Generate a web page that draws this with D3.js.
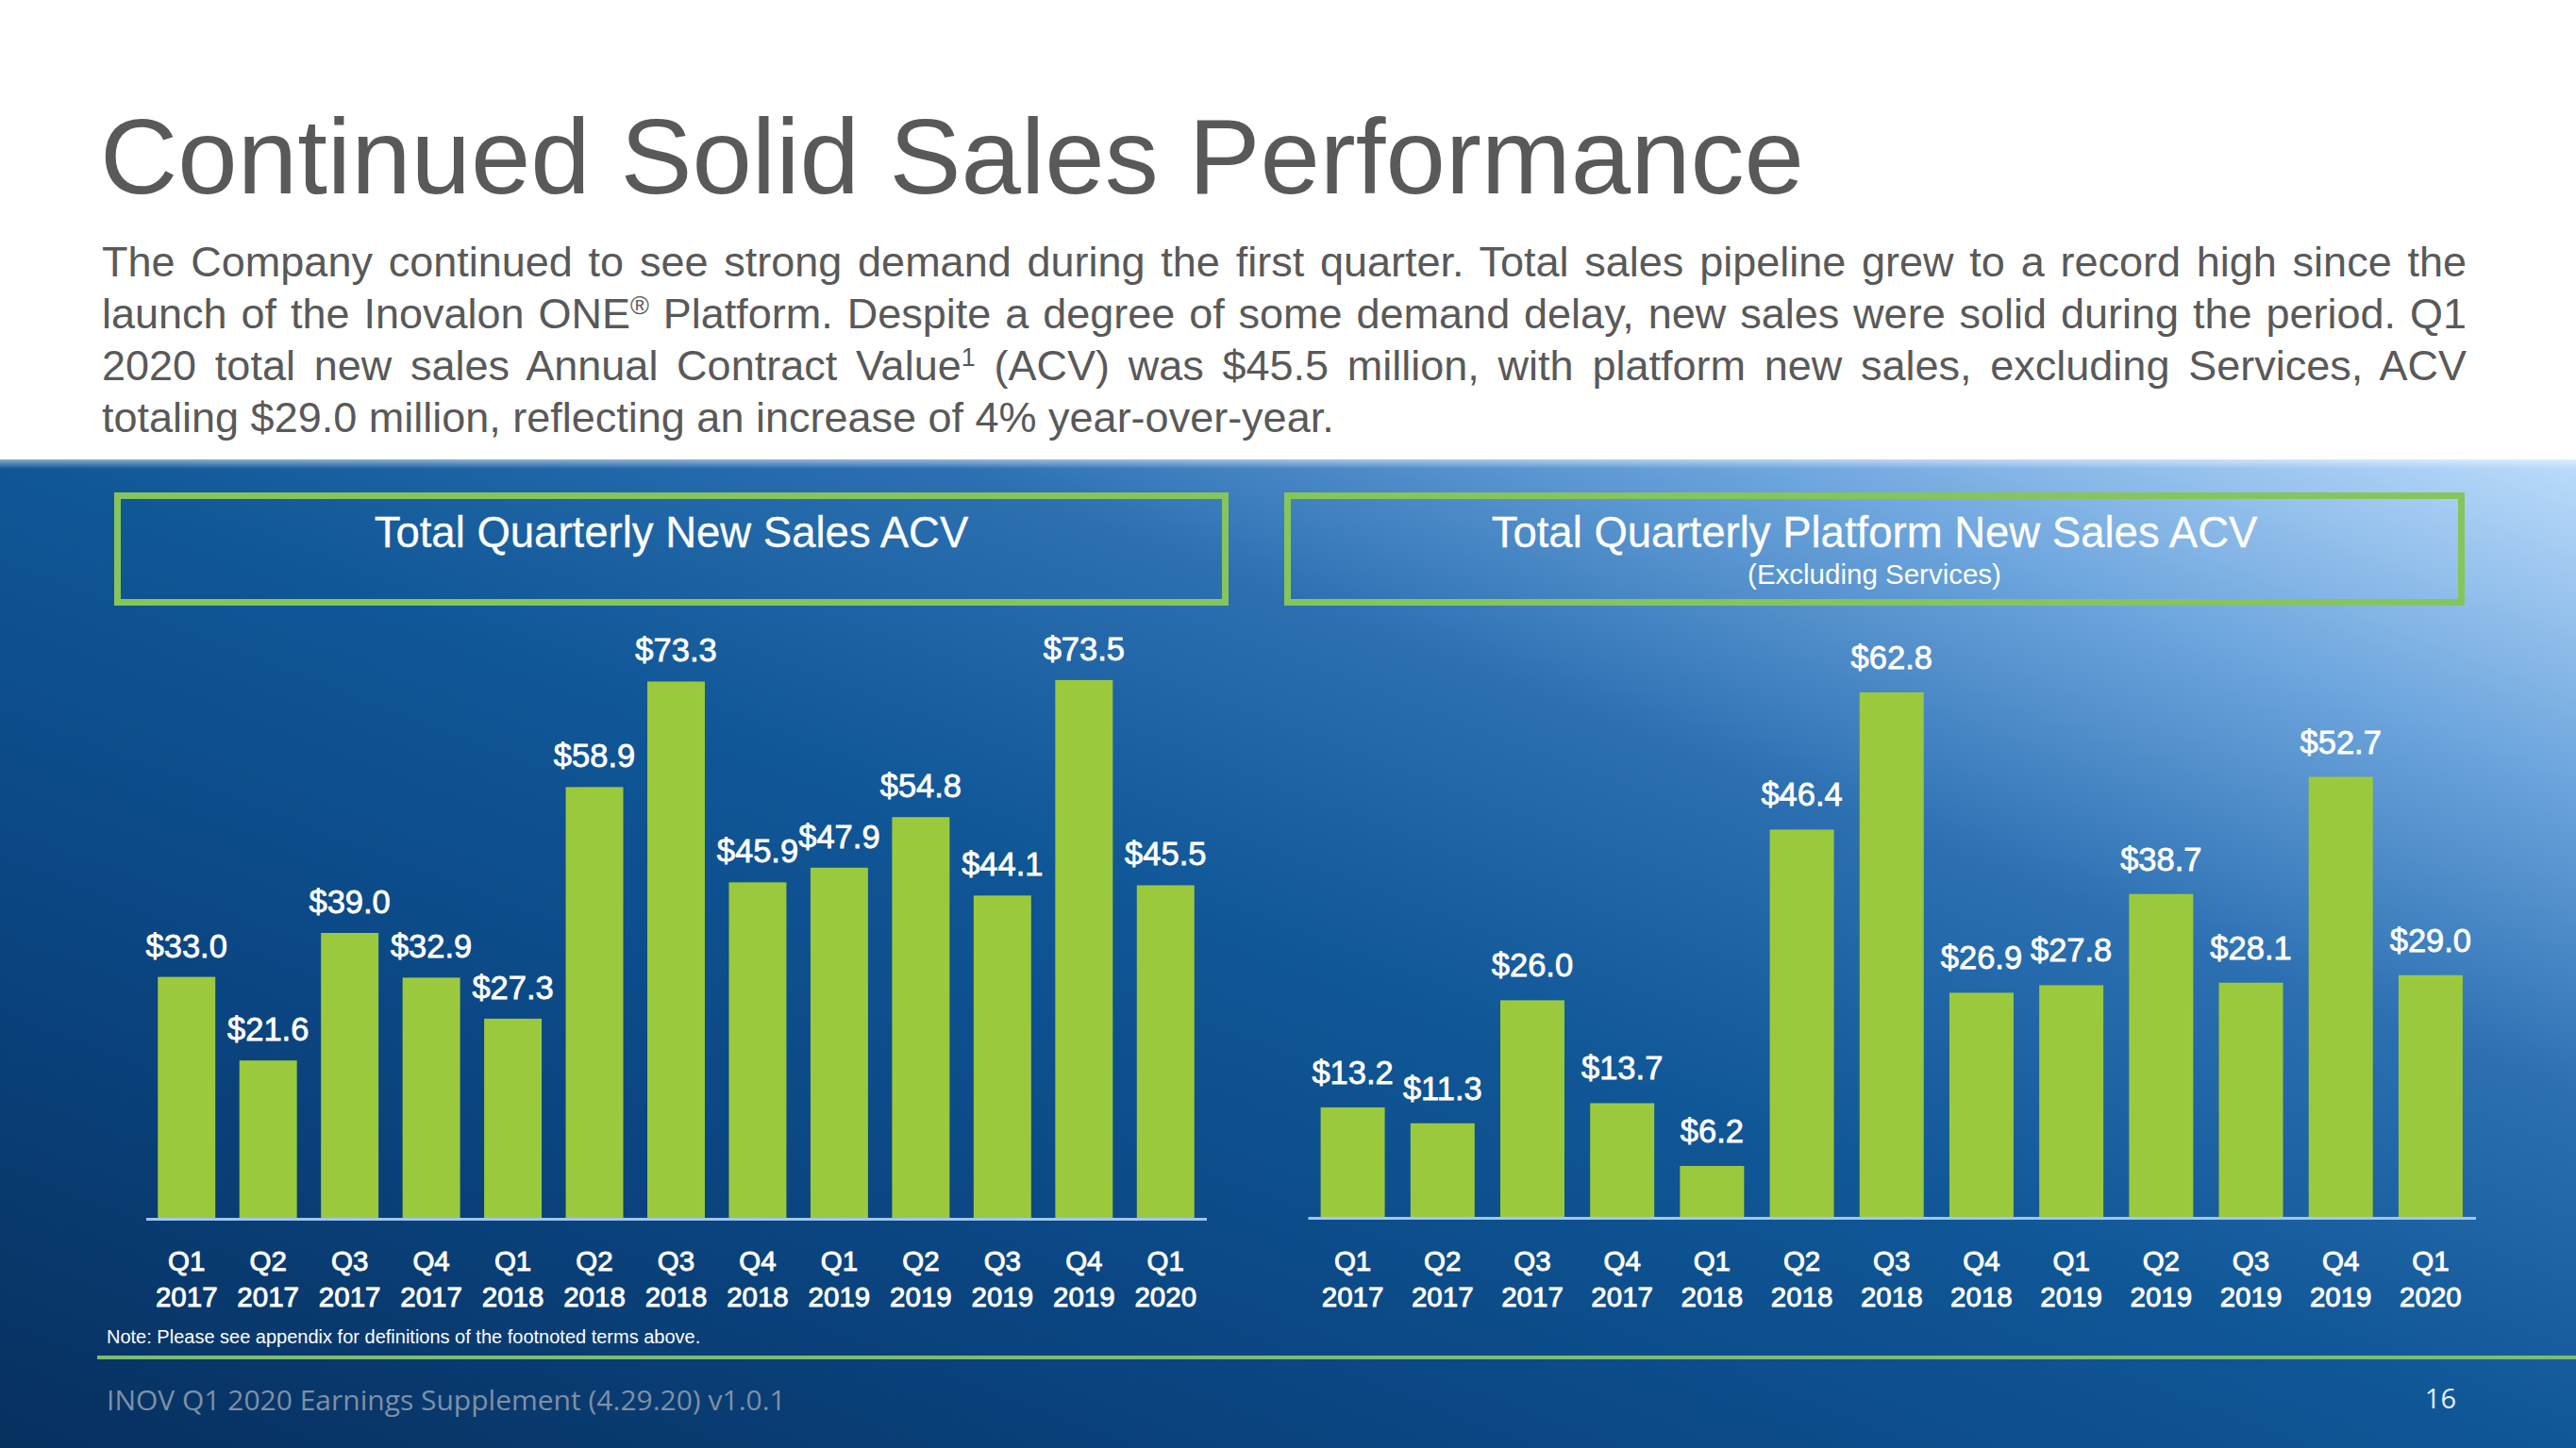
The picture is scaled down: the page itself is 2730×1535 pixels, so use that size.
<!DOCTYPE html>
<html>
<head>
<meta charset="utf-8">
<script src="https://cdn.jsdelivr.net/npm/d3@7/dist/d3.min.js"></script>
<style>
  html, body { margin: 0; padding: 0; background: #ffffff; }
  svg { display: block; }
</style>
</head>
<body>
<svg id="chart" width="2730" height="1535"></svg>
<script>
// ---------------- DATA ----------------
const quarters = ["Q1","Q2","Q3","Q4","Q1","Q2","Q3","Q4","Q1","Q2","Q3","Q4","Q1"];
const years = ["2017","2017","2017","2017","2018","2018","2018","2018","2019","2019","2019","2019","2020"];
const totalACV = [33.0, 21.6, 39.0, 32.9, 27.3, 58.9, 73.3, 45.9, 47.9, 54.8, 44.1, 73.5, 45.5];
const platformACV = [13.2, 11.3, 26.0, 13.7, 6.2, 46.4, 62.8, 26.9, 27.8, 38.7, 28.1, 52.7, 29.0];

const slideTitle = "Continued Solid Sales Performance";
const paragraphLines = [
  [{t:"The Company continued to see strong demand during the first quarter. Total sales pipeline grew to a record high since the"}],
  [{t:"launch of the Inovalon ONE"},{t:"®", sup:true},{t:" Platform. Despite a degree of some demand delay, new sales were solid during the period. Q1"}],
  [{t:"2020 total new sales Annual Contract Value"},{t:"1", sup:true},{t:" (ACV) was $45.5 million, with platform new sales, excluding Services, ACV"}],
  [{t:"totaling $29.0 million, reflecting an increase of 4% year-over-year."}]
];
const chart1Title = "Total Quarterly New Sales ACV";
const chart2Title = "Total Quarterly Platform New Sales ACV";
const chart2Sub = "(Excluding Services)";
const noteText = "Note: Please see appendix for definitions of the footnoted terms above.";
const footerText = "INOV Q1 2020 Earnings Supplement (4.29.20) v1.0.1";
const pageNum = "16";

// ---------------- SETUP ----------------
const svg = d3.select("#chart");
const FONT = "'Liberation Sans', Arial, Helvetica, sans-serif";
const defs = svg.append("defs");

const grad = defs.append("linearGradient").attr("id","bg")
  .attr("x1",0).attr("y1",1).attr("x2",1).attr("y2",0);
[[0,"#07305f"],[0.30,"#0b4784"],[0.5,"#105797"],[0.68,"#2c70b2"],[0.84,"#6ea6de"],[1,"#bcdcfb"]]
  .forEach(([o,c]) => grad.append("stop").attr("offset",o).attr("stop-color",c));

const topGlow = defs.append("linearGradient").attr("id","topglow")
  .attr("x1",0).attr("y1",0).attr("x2",0).attr("y2",1);
topGlow.append("stop").attr("offset",0).attr("stop-color","#ffffff").attr("stop-opacity",0.5);
topGlow.append("stop").attr("offset",1).attr("stop-color","#ffffff").attr("stop-opacity",0);

// white background
svg.append("rect").attr("x",0).attr("y",0).attr("width",2730).attr("height",1535).attr("fill","#ffffff");
// blue panel
svg.append("rect").attr("x",0).attr("y",487).attr("width",2730).attr("height",1048).attr("fill","url(#bg)");
svg.append("rect").attr("x",0).attr("y",487).attr("width",2730).attr("height",10).attr("fill","url(#topglow)");

// ---------------- TITLE & PARAGRAPH ----------------
svg.append("text").attr("x",106).attr("y",205)
  .attr("font-family",FONT).attr("font-size",114).attr("fill","#595959")
  .text(slideTitle);

const paraX = 108, paraRight = 2614, paraY0 = 293, paraDY = 55;
paragraphLines.forEach((parts, i) => {
  const t = svg.append("text").attr("x",paraX).attr("y",paraY0 + i*paraDY)
    .attr("font-family",FONT).attr("font-size",45).attr("fill","#595959")
    .attr("xml:space","preserve");
  parts.forEach(p => {
    const ts = t.append("tspan").text(p.t);
    if (p.sup) ts.attr("font-size",27).attr("baseline-shift","super");
  });
  if (i < paragraphLines.length - 1) {
    const natural = t.node().getComputedTextLength();
    const full = parts.map(p=>p.t).join("");
    const spaces = (full.match(/ /g) || []).length;
    const extra = (paraRight - paraX - natural) / spaces;
    t.attr("word-spacing", extra);
  }
});

// ---------------- CHART FUNCTION ----------------
function drawChart(cfg) {
  const g = svg.append("g");
  // header box
  g.append("rect")
    .attr("x",cfg.box[0]).attr("y",cfg.box[1]).attr("width",cfg.box[2]).attr("height",cfg.box[3])
    .attr("fill","none").attr("stroke","#86c55b").attr("stroke-width",7);
  g.append("text").attr("x",cfg.box[0]+cfg.box[2]/2).attr("y",580)
    .attr("text-anchor","middle").attr("font-family",FONT).attr("font-size",45.5)
    .attr("fill","#ffffff").attr("stroke","#ffffff").attr("stroke-width",0.3).text(cfg.title);
  if (cfg.sub) {
    g.append("text").attr("x",cfg.box[0]+cfg.box[2]/2).attr("y",619)
      .attr("text-anchor","middle").attr("font-family",FONT).attr("font-size",29.5)
      .attr("fill","#ffffff").text(cfg.sub);
  }

  const x = d3.scaleBand().domain(d3.range(cfg.values.length))
    .range(cfg.xRange).paddingInner(cfg.pad).paddingOuter(cfg.pad/2);
  const y = d3.scaleLinear().domain(cfg.yDomain).range(cfg.yRange);

  g.selectAll("rect.bar").data(cfg.values).join("rect").attr("class","bar")
    .attr("x",(d,i)=>x(i)).attr("width",x.bandwidth())
    .attr("y",d=>y(d)).attr("height",d=>y(0)-y(d))
    .attr("fill","#9bc93d");

  // baseline axis
  const axis = d3.axisBottom(x).tickSize(0).tickFormat("");
  const ag = g.append("g").attr("transform",`translate(0,${y(0)})`).call(axis);
  ag.select(".domain").attr("stroke","#9fc6f2").attr("stroke-width",3);

  // value labels
  g.selectAll("text.val").data(cfg.values).join("text").attr("class","val")
    .attr("x",(d,i)=>x(i)+x.bandwidth()/2).attr("y",d=>y(d)-cfg.labelGap)
    .attr("text-anchor","middle").attr("font-family",FONT).attr("font-size",34.5)
    .attr("fill","#ffffff").attr("stroke","#ffffff").attr("stroke-width",0.8)
    .text(d=>"$"+d.toFixed(1));

  // category labels
  g.selectAll("text.q").data(quarters).join("text").attr("class","q")
    .attr("x",(d,i)=>x(i)+x.bandwidth()/2).attr("y",1347)
    .attr("text-anchor","middle").attr("font-family",FONT).attr("font-size",29.5)
    .attr("fill","#ffffff").attr("stroke","#ffffff").attr("stroke-width",0.9)
    .text(d=>d);
  g.selectAll("text.yr").data(years).join("text").attr("class","yr")
    .attr("x",(d,i)=>x(i)+x.bandwidth()/2).attr("y",1385)
    .attr("text-anchor","middle").attr("font-family",FONT).attr("font-size",29.5)
    .attr("fill","#ffffff").attr("stroke","#ffffff").attr("stroke-width",0.9)
    .text(d=>d);
}

drawChart({
  values: totalACV, title: chart1Title,
  box: [124.5, 525.5, 1174, 113],
  xRange: [154.5, 1278.5], pad: 0.295, labelGap: 21,
  yDomain: [0, 80], yRange: [1292, 1292 - 80*7.77]
});
drawChart({
  values: platformACV, title: chart2Title, sub: chart2Sub,
  box: [1364.5, 525.5, 1244, 113],
  xRange: [1386, 2623.5], pad: 0.286, labelGap: 25,
  yDomain: [0, 70], yRange: [1291, 1291 - 70*8.87]
});

// ---------------- FOOTER ----------------
svg.append("text").attr("x",113).attr("y",1424)
  .attr("font-family",FONT).attr("font-size",20).attr("fill","#ffffff")
  .text(noteText);
svg.append("line").attr("x1",103).attr("x2",2730).attr("y1",1439).attr("y2",1439)
  .attr("stroke","#7dbd72").attr("stroke-width",4);
svg.append("text").attr("x",113).attr("y",1495)
  .attr("font-family","'Open Sans', 'Noto Sans', sans-serif").attr("font-size",30)
  .attr("fill","#7f90a5").text(footerText);
svg.append("text").attr("x",2603).attr("y",1493).attr("text-anchor","end")
  .attr("font-family","'Open Sans', 'Noto Sans', sans-serif").attr("font-size",29)
  .attr("fill","#e3eef8").text(pageNum);
</script>
</body>
</html>
